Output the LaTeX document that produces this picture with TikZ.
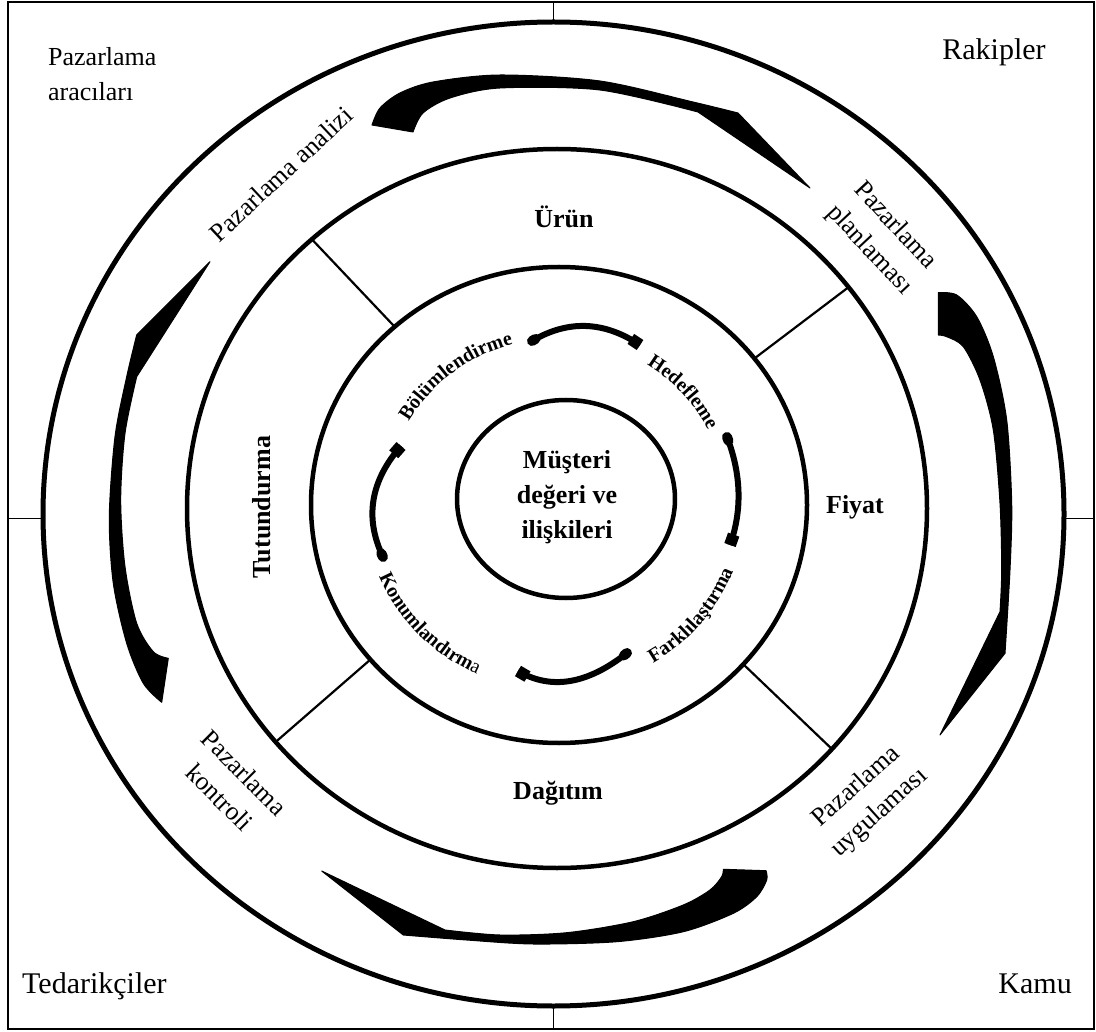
\documentclass[tikz,border=0pt]{standalone}
\usepackage{fontspec}
\setmainfont{Liberation Serif}
\usetikzlibrary{decorations.text,calc}

% fonts for the small curved step labels
\newcommand\stepfont{\fontsize{20}{24}\selectfont\bfseries}
\newcommand\stepfontreg{\fontsize{20}{24}\selectfont\mdseries}

\begin{document}
\begin{tikzpicture}[x=1pt,y=1pt,
  frameline/.style={line width=1.5pt},
  ring/.style={line width=4.5pt},
  outerring/.style={line width=5pt},
  divider/.style={line width=2.2pt},
  swoosh/.style={fill=black, draw=black, line width=1pt, line join=round},
  cyc/.style={line width=6pt},
  cycblock/.style={line width=12pt},
  cycblob/.style={line width=10pt, line cap=round},
  plain/.style={font=\fontsize{26}{35}\selectfont, inner sep=0pt, align=center},
  corner/.style={font=\fontsize{30}{35}\selectfont, inner sep=0pt},
  heavy/.style={font=\fontsize{26}{35}\selectfont\bfseries, inner sep=0pt, align=center}
]
\useasboundingbox (0,0) rectangle (1096,-1032);

% ---- centres of the rings
\coordinate (c1) at (553.5,-514);
\coordinate (c2) at (557,-508.5);
\coordinate (c3) at (559,-505);
\coordinate (c4) at (566,-499);
\coordinate (c5) at (556,-504);

% ---- environment frame and its quarter ticks
\draw[frameline] (8,-2) rectangle (1094,-1029);
\coordinate (tTop) at (553.5,-2);
\coordinate (tBot) at (553.5,-1029);
\coordinate (tLeft) at (8,-518.5);
\coordinate (tRight) at (1094,-518.5);
\draw[frameline] (tTop) -- ($(c1)+(0,492)$);
\draw[frameline] (tBot) -- ($(c1)+(0,-492)$);
\draw[frameline] (tLeft) -- ($(c1)+(-510.5,-4.5)$);
\draw[frameline] (tRight) -- ($(c1)+(510.5,-4.5)$);

% ---- rings
\draw[outerring] (c1) ellipse [x radius=510.5, y radius=492];
\draw[ring] (c2) ellipse [x radius=370, y radius=359.5];
\draw[ring] (c3) ellipse [x radius=248, y radius=238];
\draw[ring] (c4) ellipse [x radius=109, y radius=99];

% ---- marketing-mix dividers
\foreach \a in {131.5,38,220.5,318}
  \draw[divider] ($(c2)+(\a:370 and 359.5)$) -- ($(c3)+(\a:248 and 238)$);

% ---- process swooshes between the two outer rings
% top: analysis -> planning
\fill[swoosh] (372,-125)
  -- plot[smooth] coordinates {(372,-125) (380,-108) (400,-93) (433,-82) (500,-75) (600,-81) (693,-102) (738,-113)}
  -- (810,-188)
  -- plot[smooth] coordinates {(698,-112) (600,-90) (500,-88) (450,-98) (423,-113) (413,-132)}
  -- cycle;
% right: planning -> implementation
\fill[swoosh] (938.3,-292.7)
  -- plot[smooth] coordinates {(938.3,-292.7) (956.7,-295) (976.7,-316.7) (993.3,-356.7) (1006.7,-420) (1011.7,-503.3) (1010,-570) (1005,-653.3)}
  -- (940,-735)
  -- plot[smooth] coordinates {(1000,-611.7) (1001.7,-570) (1000,-503.3) (993.3,-430) (980,-380) (963.3,-346.7) (946.7,-336.7) (938.3,-335)}
  -- cycle;
% bottom: implementation -> control
\fill[swoosh] (723.3,-869.3) -- (766,-870.7)
  -- plot[smooth] coordinates {(766,-870.7) (766.7,-880) (756.7,-896.7) (733.3,-913.3) (683.3,-931.7) (616.7,-941.7) (533.3,-944) (466.7,-940) (403.3,-935)}
  -- (321.7,-871)
  -- plot[smooth] coordinates {(445,-930) (500,-935) (566.7,-932.7) (633.3,-921.7) (683.3,-905) (710,-890) (721.7,-876.7) (723.3,-869.3)}
  -- cycle;
% left: control -> analysis
\fill[swoosh] (161.7,-702.3) -- (168.3,-658.3)
  -- plot[smooth] coordinates {(168.3,-658.3) (153.3,-651.7) (136.7,-623.3) (125,-566.7) (120.7,-500) (125,-433.3) (136.7,-376.7)}
  -- (210,-261.7)
  -- plot[smooth] coordinates {(136.7,-335) (126.7,-376.7) (115,-436.7) (109.3,-516.7) (113.3,-583.3) (126.7,-643.3) (143.3,-683.3) (161.7,-702.3)}
  -- cycle;

% ---- inner cycle strokes: start (blob), quadratic control, end (block)
\foreach \name/\sx/\sy/\cx/\cy/\ex/\ey in {
    top/532/341/586/309/640/345,
    right/727/437/748.5/493/730/545,
    bottom/627/653/567.5/700/518/671,
    left/383/557/355/498.5/401/446}{
  \coordinate (\name-s) at (\sx,-\sy);
  \coordinate (\name-c) at (\cx,-\cy);
  \coordinate (\name-e) at (\ex,-\ey);
  \draw[cyc] (\name-s) .. controls ($(\name-s)!2/3!(\name-c)$) and ($(\name-e)!2/3!(\name-c)$) .. (\name-e);
  \draw[cycblob] ($(\name-s)!4pt!(\name-c)$) -- (\name-s);
  \draw[cycblock] ($(\name-e)!11pt!(\name-c)$) -- (\name-e);
}

% ---- curved step labels
\path[decorate, decoration={text along path, text align=center,
      text={|\stepfont|Bölümlendirme}}]
  ($(c5)+(165:170 and 165)$) arc[start angle=165, end angle=90, x radius=170, y radius=165];
\path[decorate, decoration={text along path, text align=center,
      text={|\stepfont|Hedefleme}}]
  ($(c5)+(72:170 and 165)$) arc[start angle=72, end angle=12, x radius=170, y radius=165];
\path[decorate, decoration={text along path, text align=center,
      text={|\stepfont|Farklılaştırma}}]
  ($(c5)+(-80:190 and 185)$) arc[start angle=-80, end angle=0, x radius=190, y radius=185];
\path[decorate, decoration={text along path, text align=center,
      text={|\stepfont|Konumlandırm|\stepfontreg|a}}]
  ($(c5)+(180:192 and 187)$) arc[start angle=180, end angle=268, x radius=192, y radius=187];

% ---- centre and marketing-mix labels
\node[heavy] (core) at (567,-497) {Müşteri\\değeri ve\\ilişkileri};
\node[heavy] (urun) at (564,-217) {Ürün};
\node[heavy] (fiyat) at (855,-507) {Fiyat};
\node[heavy] (dagitim) at (558,-793) {Dağıtım};
\node[heavy, rotate=90] (tutundurma) at (262,-507) {Tutundurma};

% ---- process labels
\node[plain, rotate=43] (analiz) at (281,-174) {Pazarlama analizi};
\node[plain, rotate=-47] (planlama) at (882,-238) {Pazarlama\\planlaması};
\node[plain, rotate=42] (uygulama) at (868,-800) {Pazarlama\\uygulaması};
\node[plain, rotate=-45] (kontrol) at (232,-785) {Pazarlama\\kontroli};

% ---- environment labels in the corners
\node[plain, align=left, anchor=north west] (aracilar) at (48,-47) {Pazarlama\\aracıları};
\node[corner, anchor=base] (rakipler) at (994,-60) {Rakipler};
\node[corner, anchor=base west] (tedarik) at (22,-993) {Tedarikçiler};
\node[corner, anchor=base east] (kamu) at (1072,-993) {Kamu};
\end{tikzpicture}
\end{document}
